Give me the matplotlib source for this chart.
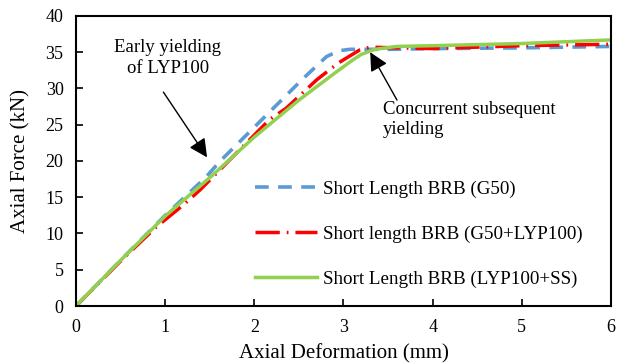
import matplotlib
matplotlib.use("Agg")
import matplotlib.pyplot as plt

plt.rcParams['font.family'] = ['Liberation Serif', 'DejaVu Serif']

x_g50 = [0, 0.5, 1.0, 1.46, 1.61, 2.06, 2.55, 2.81, 2.95, 3.07, 3.5, 4.0, 5.0, 6.0]
f_g50 = [0, 6.3, 12.5, 17.8, 19.9, 25.4, 31.4, 34.4, 35.2, 35.4, 35.4, 35.5, 35.6, 35.8]

x_lyp = [0, 0.5, 0.9, 1.2, 1.39, 1.76, 2.17, 2.36, 2.7, 2.94, 3.18, 3.3, 3.6, 4.0, 5.0, 6.0]
f_lyp = [0, 6.2, 10.9, 13.9, 16.0, 20.6, 25.7, 27.3, 31.2, 33.5, 35.3, 35.7, 35.6, 35.5, 35.9, 36.1]

x_ss = [0, 0.5, 1.0, 1.5, 2.0, 2.5, 2.9, 3.1, 3.2, 3.35, 3.6, 4.0, 5.0, 6.0]
f_ss = [0, 6.3, 12.4, 17.7, 23.3, 28.4, 32.1, 33.9, 34.7, 35.4, 35.8, 35.9, 36.2, 36.7]

labels = ['Short Length BRB (G50)',
          'Short length BRB (G50+LYP100)',
          'Short Length BRB (LYP100+SS)']

fig = plt.figure(figsize=(6.19, 3.63), dpi=100)
ax = fig.add_axes([0.1228, 0.157, 0.8642, 0.799])

ax.plot(x_g50, f_g50, color='#5b9bd5', lw=2.6, dashes=(3.8, 2.6), label=labels[0])
ax.plot(x_lyp, f_lyp, color='#ff0000', lw=2.5, dashes=(7, 2, 0.5, 2), label=labels[1])
ax.plot(x_ss, f_ss, color='#92d050', lw=2.5, label=labels[2])

ax.set_xlim(0, 6)
ax.set_ylim(0, 40)
ax.set_xticks(range(0, 7))
ax.set_yticks(range(0, 41, 5))
ax.tick_params(direction='in', labelsize=13, length=5, width=1.2)
ax.tick_params(axis='x', pad=9.5)
ax.tick_params(axis='y', pad=9)
for s in ax.spines.values():
    s.set_linewidth(1.5)
ax.set_xlabel('Axial Deformation (mm)', fontsize=15)
ax.set_ylabel('Axial Force (kN)', fontsize=15)
ax.xaxis.set_label_coords(0.5, -0.13)
ax.yaxis.set_label_coords(-0.086, 0.5)

ax.annotate('Early yielding\nof LYP100', xy=(1.47, 20.5), xytext=(1.03, 34.2),
            ha='center', va='center', fontsize=13.5, linespacing=1.3)
ax.annotate('', xy=(1.47, 20.5), xytext=(0.98, 29.5),
            arrowprops=dict(arrowstyle='-|>', color='black', lw=1, mutation_scale=28,
                            shrinkA=0, shrinkB=0))
ax.annotate('', xy=(3.30, 35.0), xytext=(3.60, 28.4),
            arrowprops=dict(arrowstyle='-|>', color='black', lw=1, mutation_scale=28,
                            shrinkA=0, shrinkB=0))
ax.text(3.44, 25.7, 'Concurrent subsequent\nyielding', ha='left', va='center',
        fontsize=13.5, linespacing=1.25)

ax.legend(loc='upper left', bbox_to_anchor=(0.3346, 0.432), frameon=False, fontsize=13.7,
          handlelength=3.26, handletextpad=0.3, labelspacing=1.45,
          borderpad=0, borderaxespad=0)

fig.savefig('out.png', dpi=100)
